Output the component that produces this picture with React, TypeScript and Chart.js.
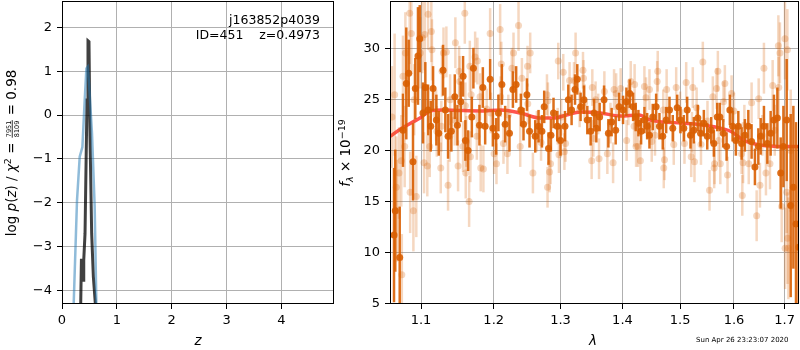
import React, { useEffect, useRef } from 'react';
import { Chart, registerables } from 'chart.js';
Chart.register(...registerables);

// ---------- left panel: log p(z) ----------
const zTicks = [0, 1, 2, 3, 4];
const pTicks = [-4, -3, -2, -1, 0, 1, 2];
const zBlue = [0.19, 0.213, 0.274, 0.323, 0.372, 0.414, 0.445, 0.469, 0.493, 0.547, 0.596, 0.627, 0.65];
const pBlue = [-5.5, -4.32, -1.94, -0.95, -0.73, 0.34, 1.06, 1.10, 0.72, -0.42, -2.10, -4.32, -5.5];
const zBlack = [0.335, 0.341, 0.354, 0.368, 0.383, 0.392, 0.401, 0.42, 0.456, 0.474, 0.492, 0.51, 0.541, 0.572, 0.609, 0.62];
const pBlack = [-5, -4.32, -3.31, -3.31, -3.77, -3.5, -3.31, -2.70, 0.34, 1.69, 1.67, -0.42, -2.70, -3.69, -4.32, -5];

// ---------- right panel: spectrum ----------
const lamTicks = [1.1, 1.2, 1.3, 1.4, 1.5, 1.6, 1.7];
const fluxTicks = [5, 10, 15, 20, 25, 30];

const lightLam = [
  1.0624,1.0658,1.0679,1.0685,1.0714,1.0743,1.0750,1.0765,1.0787,1.0796,
  1.0852,1.0858,1.0873,1.0900,1.0910,1.0938,1.0990,1.1016,1.1040,1.1049,
  1.1083,1.1093,1.1115,1.1137,1.1145,1.1200,1.1210,1.1263,1.1271,1.1280,
  1.1300,1.1339,1.1362,1.1385,1.1390,1.1454,1.1462,1.1499,1.1513,1.1522,
  1.1568,1.1592,1.1600,1.1605,1.1614,1.1652,1.1662,1.1670,1.1680,1.1736,
  1.1760,1.1768,1.1806,1.1815,1.1853,1.1900,1.1949,1.1960,1.2006,1.2040,
  1.2093,1.2100,1.2110,1.2141,1.2199,1.2212,1.2264,1.2288,1.2362,1.2387,
  1.2412,1.2496,1.2500,1.2536,1.2577,1.2637,1.2700,1.2790,1.2799,1.2805,
  1.2830,1.2845,1.2955,1.2964,1.2975,1.3010,1.3042,1.3060,1.3078,1.3141,
  1.3211,1.3236,1.3300,1.3354,1.3362,1.3380,1.3493,1.3504,1.3520,1.3557,
  1.3600,1.3613,1.3700,1.3749,1.3800,1.3844,1.3860,1.3895,1.3970,1.4070,
  1.4100,1.4139,1.4197,1.4205,1.4230,1.4262,1.4304,1.4373,1.4400,1.4460,
  1.4500,1.4556,1.4594,1.4604,1.4700,1.4710,1.4722,1.4760,1.4887,1.4930,
  1.5000,1.5079,1.5110,1.5201,1.5215,1.5230,1.5261,1.5300,1.5380,1.5414,
  1.5500,1.5538,1.5600,1.5625,1.5632,1.5670,1.5694,1.5710,1.5740,1.5800,
  1.5826,1.5877,1.5954,1.6000,1.6147,1.6160,1.6175,1.6200,1.6285,1.6341,
  1.6440,1.6480,1.6505,1.6550,1.6584,1.6624,1.6704,1.6758,1.6800,1.6873,
  1.6880,1.6905,1.6940,1.7007,1.7010,1.7042,1.7056,1.7060,1.7077,1.7124,
];
const lightFlux = [
  23.3,25.5,16.4,14.1,17.8,19.0,7.8,27.3,20.4,29.6,
  33.5,15.9,31.5,14.1,25.0,15.5,29.6,31.1,18.8,31.4,
  18.5,33.4,20.4,31.7,29.9,23.5,21.9,18.3,22.4,27.8,
  29.6,29.7,16.6,21.4,25.0,23.0,30.6,18.5,27.8,26.8,
  20.4,33.5,24.4,17.8,20.9,15.0,28.3,19.4,25.5,29.2,
  21.4,28.8,25.3,18.3,18.2,24.1,31.5,23.7,19.7,18.7,
  31.9,25.3,28.5,20.7,19.7,23.5,28.1,29.6,32.3,20.4,
  27.1,28.3,24.6,29.6,17.8,21.9,20.8,25.5,16.4,24.9,
  17.9,18.7,22.4,28.8,19.6,23.3,27.7,19.9,20.7,26.9,
  26.9,29.6,24.1,27.9,27.1,24.7,19.0,26.2,21.2,25.0,
  23.6,19.2,25.8,19.7,22.7,18.8,26.0,25.6,26.1,21.0,
  24.5,26.8,22.4,26.5,20.4,20.4,19.0,26.3,25.2,26.0,
  20.9,21.5,26.8,27.8,24.0,18.3,19.1,26.0,20.6,26.2,
  23.8,20.7,26.7,19.4,21.8,26.2,18.9,24.2,20.6,28.7,
  22.9,16.1,25.3,18.3,18.7,26.1,27.8,21.0,18.7,24.8,
  26.6,17.6,25.6,23.9,19.7,15.6,18.8,22.5,18.7,24.7,
  13.6,25.1,16.6,21.5,28.1,17.8,18.7,26.4,22.0,30.3,
  26.2,29.6,14.5,31.0,10.4,15.9,29.9,11.4,10.4,20.0,
];
const lightErr = [
  5.0,6.0,5.0,5.0,4.5,4.5,4.0,4.0,4.0,4.0,
  5.0,4.0,4.0,4.0,3.5,4.0,3.5,3.5,3.0,3.5,
  3.0,3.5,3.0,3.0,3.0,2.5,2.5,2.5,2.5,2.5,
  2.5,2.5,2.5,2.5,2.5,2.5,2.5,2.5,2.5,2.5,
  2.5,3.0,2.3,2.5,2.5,2.5,2.5,2.5,2.5,2.5,
  2.3,2.3,2.3,2.3,2.3,2.0,2.5,2.0,2.0,2.0,
  2.5,2.0,2.2,2.0,2.0,2.0,2.0,2.0,2.5,2.0,
  2.0,2.0,2.0,2.0,2.0,2.0,1.8,2.0,2.0,1.8,
  2.0,2.0,1.8,1.8,1.8,1.8,1.8,1.8,1.8,1.8,
  1.8,2.0,1.8,1.8,1.8,1.8,1.8,1.8,1.8,1.8,
  2.0,2.0,2.0,2.0,2.0,2.0,2.0,2.0,2.0,2.0,
  2.0,2.0,2.0,2.0,2.0,2.0,2.0,2.0,2.0,2.0,
  2.0,2.0,2.0,2.0,2.0,2.0,2.0,2.0,2.0,2.0,
  2.0,2.0,2.0,2.0,2.0,2.0,2.0,2.0,2.0,2.0,
  2.0,2.0,2.0,2.0,2.0,2.0,2.0,2.0,2.0,2.0,
  1.8,1.8,1.8,1.8,2.0,2.0,2.0,2.0,2.0,2.0,
  2.5,2.0,2.2,2.0,2.5,2.2,2.5,2.5,2.5,3.0,
  3.0,3.0,3.5,4.0,4.0,4.0,4.0,4.5,5.0,6.0,
];

const darkLam = [
  1.0650,1.0666,1.0723,1.0765,1.0808,1.0839,1.0895,1.0925,1.0960,1.0983,
  1.1026,1.1057,1.1093,1.1129,1.1160,1.1204,1.1236,1.1294,1.1325,1.1362,
  1.1407,1.1454,1.1490,1.1536,1.1568,1.1600,1.1638,1.1690,1.1712,1.1797,
  1.1845,1.1878,1.1949,1.1988,1.2035,1.2068,1.2118,1.2166,1.2229,1.2279,
  1.2327,1.2397,1.2436,1.2487,1.2526,1.2612,1.2662,1.2713,1.2748,1.2814,
  1.2851,1.2891,1.2949,1.3000,1.3069,1.3121,1.3173,1.3227,1.3263,1.3316,
  1.3370,1.3423,1.3477,1.3532,1.3569,1.3623,1.3695,1.3766,1.3820,1.3887,
  1.3943,1.4010,1.4066,1.4122,1.4180,1.4224,1.4270,1.4316,1.4373,1.4420,
  1.4460,1.4517,1.4576,1.4634,1.4692,1.4752,1.4811,1.4869,1.4948,1.5007,
  1.5067,1.5128,1.5188,1.5249,1.5322,1.5372,1.5433,1.5496,1.5570,1.5619,
  1.5683,1.5732,1.5796,1.5859,1.5921,1.5973,1.6036,1.6083,1.6147,1.6210,
  1.6277,1.6341,1.6406,1.6473,1.6519,1.6584,1.6652,1.6718,1.6784,1.6853,
  1.6920,1.6975,1.7042,1.7124,1.7179,1.7233,1.7289,
];
const darkFlux = [
  11.7,14.1,9.5,22.0,26.6,27.6,18.9,26.1,29.3,31.0,
  23.7,26.2,24.0,22.4,26.1,23.0,21.7,27.9,24.0,21.4,
  21.9,25.3,22.5,24.8,27.3,21.0,20.0,23.3,28.1,22.5,
  26.2,22.4,27.0,22.2,21.4,23.7,26.5,22.6,21.7,26.0,
  26.5,24.0,22.6,25.5,21.9,21.4,22.4,21.9,24.3,20.2,
  21.5,23.7,22.4,21.0,22.4,25.0,24.0,26.0,27.0,24.3,
  25.0,23.0,21.9,23.7,22.2,23.3,25.0,21.7,22.8,22.0,
  24.3,24.0,24.8,25.6,24.3,23.3,22.7,21.9,23.0,22.4,
  21.5,23.3,24.3,22.4,21.4,23.0,24.0,22.2,24.2,23.0,
  22.2,24.0,21.5,22.0,23.2,21.7,22.7,21.4,22.0,20.7,
  23.3,23.3,21.7,20.4,24.0,22.4,21.0,22.4,20.7,21.5,
  22.4,20.9,18.4,20.4,21.4,22.4,20.7,21.7,23.0,23.2,
  17.8,20.4,23.0,14.6,16.4,12.8,10.5,
];
const darkErr = [
  6.6,6.0,5.0,3.6,5.5,3.3,3.8,3.0,4.8,3.3,
  3.0,2.5,2.5,2.5,2.2,2.5,2.2,2.5,2.2,2.2,
  2.0,2.2,2.0,2.0,2.0,2.0,2.0,2.0,2.0,2.0,
  2.0,1.8,2.0,1.8,1.8,1.8,2.0,1.8,1.8,1.8,
  1.8,1.6,1.6,1.6,1.6,1.6,1.6,1.6,1.6,1.6,
  1.6,1.5,1.5,1.5,1.5,1.5,1.5,1.5,1.5,1.4,
  1.4,1.4,1.4,1.4,1.4,1.4,1.4,1.4,1.4,1.4,
  1.4,1.4,1.4,1.4,1.4,1.4,1.3,1.3,1.3,1.3,
  1.3,1.3,1.3,1.3,1.3,1.3,1.3,1.3,1.3,1.3,
  1.3,1.3,1.3,1.3,1.3,1.3,1.3,1.3,1.3,1.3,
  1.4,1.4,1.4,1.4,1.5,1.5,1.5,1.5,1.6,1.6,
  1.6,1.7,1.8,1.8,1.8,2.0,2.0,2.2,2.5,3.0,
  3.5,4.0,6.0,9.0,8.0,10.0,10.0,
];

const modelLam = [1.0599, 1.075, 1.0902, 1.0987, 1.112, 1.1294, 1.15, 1.18, 1.21, 1.2387, 1.2688, 1.29, 1.3094, 1.331, 1.363, 1.3964, 1.4283, 1.4475, 1.4887, 1.531, 1.5619, 1.5934, 1.619, 1.6452, 1.6716, 1.70, 1.73];
const modelFlux = [21.4, 22.2, 22.85, 23.2, 23.9, 24.0, 23.95, 23.9, 24.0, 23.7, 23.2, 23.2, 23.5, 23.8, 23.7, 23.4, 23.5, 23.0, 22.75, 22.6, 22.35, 21.9, 21.0, 20.6, 20.45, 20.4, 20.4];

// ---------- helpers ----------
const FAM = '"DejaVu Sans"';
const TICK_FONT = { family: 'DejaVu Sans', size: 13 };
const GRID = '#b0b0b0';
const minus = (s: string) => s.replace('-', '\u2212');

type Seg = { t?: string; f: string; dy?: number; frac?: [string, string] };

function segW(ctx: CanvasRenderingContext2D, s: Seg) {
  ctx.font = s.f;
  if (s.frac) return Math.max(ctx.measureText(s.frac[0]).width, ctx.measureText(s.frac[1]).width) + 2;
  return ctx.measureText(s.t || '').width;
}
function drawSegs(ctx: CanvasRenderingContext2D, segs: Seg[], cx: number, by: number) {
  let total = 0;
  segs.forEach((s) => (total += segW(ctx, s)));
  let x = cx - total / 2;
  ctx.fillStyle = '#000';
  ctx.textBaseline = 'alphabetic';
  for (const s of segs) {
    const w = segW(ctx, s);
    ctx.font = s.f;
    if (s.frac) {
      ctx.textAlign = 'center';
      ctx.fillText(s.frac[0], x + w / 2, by - 5.2);
      ctx.fillText(s.frac[1], x + w / 2, by + 2.6);
      ctx.fillRect(x + 0.5, by - 4.2, w - 1, 0.8);
      ctx.textAlign = 'left';
    } else {
      ctx.textAlign = 'left';
      ctx.fillText(s.t || '', x, by + (s.dy || 0));
    }
    x += w;
  }
}

function spines(chart: any) {
  const { ctx, chartArea: a } = chart;
  ctx.save();
  ctx.strokeStyle = '#000';
  ctx.lineWidth = 1;
  ctx.strokeRect(a.left + 0.5, a.top + 0.5, a.right - a.left - 1, a.bottom - a.top - 1);
  ctx.restore();
}

const zeroPad = (s: any) => {
  s.paddingTop = 0; s.paddingBottom = 0; s.paddingLeft = 0; s.paddingRight = 0;
};

const errorBars = {
  id: 'errorBars',
  beforeDatasetDraw(chart: any, args: any) {
    const ds = chart.data.datasets[args.index];
    if (!ds.errors) return;
    const { ctx, chartArea: a, scales } = chart;
    ctx.save();
    ctx.beginPath();
    ctx.rect(a.left, a.top, a.right - a.left, a.bottom - a.top);
    ctx.clip();
    ctx.strokeStyle = ds.errorColor;
    ctx.lineWidth = ds.errorWidth;
    ds.data.forEach((p: any, i: number) => {
      const e = ds.errors[i];
      const px = scales.x.getPixelForValue(p.x);
      ctx.beginPath();
      ctx.moveTo(px, scales.y.getPixelForValue(p.y - e));
      ctx.lineTo(px, scales.y.getPixelForValue(p.y + e));
      ctx.stroke();
    });
    ctx.restore();
  },
};

const leftDecor = {
  id: 'leftDecor',
  afterDraw(chart: any) {
    const { ctx } = chart;
    spines(chart);
    ctx.save();
    ctx.fillStyle = '#000';
    ctx.font = `12.5px ${FAM}`;
    ctx.textAlign = 'right';
    ctx.textBaseline = 'alphabetic';
    ctx.fillText('j163852p4039', 320, 24);
    ctx.fillText('ID=451    z=0.4973', 320, 39);
    ctx.font = `italic 13.5px ${FAM}`;
    ctx.textAlign = 'center';
    ctx.fillText('z', 198, 345);
    ctx.translate(16, 153);
    ctx.rotate(-Math.PI / 2);
    const F = `13.5px ${FAM}`, FI = `italic 13.5px ${FAM}`, FS = `9.5px ${FAM}`, FF = `6.5px ${FAM}`;
    drawSegs(ctx, [
      { t: 'log ', f: F }, { t: 'p', f: FI }, { t: '(', f: F }, { t: 'z', f: FI }, { t: ') / ', f: F },
      { t: '\u03c7', f: FI }, { t: '2', f: FS, dy: -5.5 }, { t: ' = ', f: F },
      { frac: ['7951', '8109'], f: FF }, { t: ' = 0.98', f: F },
    ], 0, 0);
    ctx.restore();
  },
};

const rightDecor = {
  id: 'rightDecor',
  afterDraw(chart: any) {
    const { ctx } = chart;
    spines(chart);
    ctx.save();
    ctx.fillStyle = '#000';
    ctx.font = `italic 13.5px ${FAM}`;
    ctx.textAlign = 'center';
    ctx.textBaseline = 'alphabetic';
    ctx.fillText('\u03bb', 593 - 335, 345);
    ctx.font = `7px ${FAM}`;
    ctx.textAlign = 'left';
    ctx.fillText('Sun Apr 26 23:23:07 2020', 696 - 335, 342);
    ctx.save();
    ctx.translate(15, 153);
    ctx.rotate(-Math.PI / 2);
    const F = `13.5px ${FAM}`, FI = `italic 13.5px ${FAM}`, FSI = `italic 9.5px ${FAM}`, FS = `9.5px ${FAM}`;
    drawSegs(ctx, [
      { t: 'f', f: FI }, { t: '\u03bb', f: FSI, dy: 3 }, { t: ' \u00d7 10', f: F }, { t: '\u221219', f: FS, dy: -5.5 },
    ], 0, 0);
    ctx.restore();
    ctx.restore();
  },
};

function axisBase(ticks: number[], fmt: (v: number) => string, pad: number) {
  return {
    afterBuildTicks: (s: any) => { s.ticks = ticks.map((v) => ({ value: v })); },
    ticks: { callback: (v: any) => fmt(Number(v)), font: TICK_FONT, color: '#000', padding: pad, maxRotation: 0, minRotation: 0, autoSkip: false },
    grid: { color: GRID, lineWidth: 1, tickLength: 5, tickColor: '#000', tickWidth: 1, drawTicks: true },
    border: { display: false },
  };
}

export default function App() {
  const leftRef = useRef<HTMLCanvasElement>(null);
  const rightRef = useRef<HTMLCanvasElement>(null);

  useEffect(() => {
    const left = new Chart(leftRef.current as HTMLCanvasElement, {
      type: 'scatter',
      data: {
        datasets: [
          { data: zBlue.map((z, i) => ({ x: z, y: pBlue[i] })), showLine: true, borderColor: 'rgba(31,119,180,0.5)', borderWidth: 2.5, pointRadius: 0, clip: 0 } as any,
          { data: zBlack.map((z, i) => ({ x: z, y: pBlack[i] })), showLine: true, borderColor: 'rgba(0,0,0,0.75)', borderWidth: 3, pointRadius: 0, clip: 0 } as any,
        ],
      },
      options: {
        responsive: false, animation: false, devicePixelRatio: 1, events: [],
        layout: { autoPadding: false, padding: { top: 1, right: 1, left: 0, bottom: 0 } },
        plugins: { legend: { display: false }, tooltip: { enabled: false } },
        scales: {
          x: { type: 'linear', min: 0, max: 4.96, ...axisBase(zTicks, (v) => minus(v.toFixed(0)), 4), afterFit: (s: any) => { zeroPad(s); s.height = 46; } } as any,
          y: { type: 'linear', min: -4.31, max: 2.6, ...axisBase(pTicks, (v) => minus(v.toFixed(0)), 5), afterFit: (s: any) => { zeroPad(s); s.width = 62; } } as any,
        },
      } as any,
      plugins: [leftDecor],
    });

    const right = new Chart(rightRef.current as HTMLCanvasElement, {
      type: 'scatter',
      data: {
        datasets: [
          { data: lightLam.map((l, i) => ({ x: l, y: lightFlux[i] })), errors: lightErr, errorColor: 'rgba(217,95,2,0.25)', errorWidth: 2.5, pointRadius: 3.5, pointBackgroundColor: 'rgba(217,95,2,0.25)', pointBorderWidth: 0, clip: 0 } as any,
          { data: darkLam.map((l, i) => ({ x: l, y: darkFlux[i] })), errors: darkErr, errorColor: 'rgba(217,95,2,0.9)', errorWidth: 2.5, pointRadius: 3.5, pointBackgroundColor: 'rgba(217,95,2,0.9)', pointBorderWidth: 0, clip: 0 } as any,
          { data: modelLam.map((l, i) => ({ x: l, y: modelFlux[i] })), showLine: true, borderColor: 'rgba(255,20,10,0.72)', borderWidth: 3.5, pointRadius: 0, cubicInterpolationMode: 'monotone', clip: 0 } as any,
        ],
      },
      options: {
        responsive: false, animation: false, devicePixelRatio: 1, events: [],
        layout: { autoPadding: false, padding: { top: 1, right: 1, left: 0, bottom: 0 } },
        plugins: { legend: { display: false }, tooltip: { enabled: false } },
        scales: {
          x: { type: 'logarithmic', min: 1.0599, max: 1.7295, ...axisBase(lamTicks, (v) => v.toFixed(1), 4), afterFit: (s: any) => { zeroPad(s); s.height = 46; } } as any,
          y: { type: 'linear', min: 4.93, max: 34.7, ...axisBase(fluxTicks, (v) => v.toFixed(0), 5), afterFit: (s: any) => { zeroPad(s); s.width = 55; } } as any,
        },
      } as any,
      plugins: [errorBars, rightDecor],
    });

    return () => { left.destroy(); right.destroy(); };
  }, []);

  return (
    <div style={{ position: 'absolute', left: 0, top: 0, width: 800, height: 350, background: '#fff' }}>
      <canvas ref={leftRef} width={335} height={350} style={{ position: 'absolute', left: 0, top: 0, width: 335, height: 350 }} />
      <canvas ref={rightRef} width={465} height={350} style={{ position: 'absolute', left: 335, top: 0, width: 465, height: 350 }} />
    </div>
  );
}
